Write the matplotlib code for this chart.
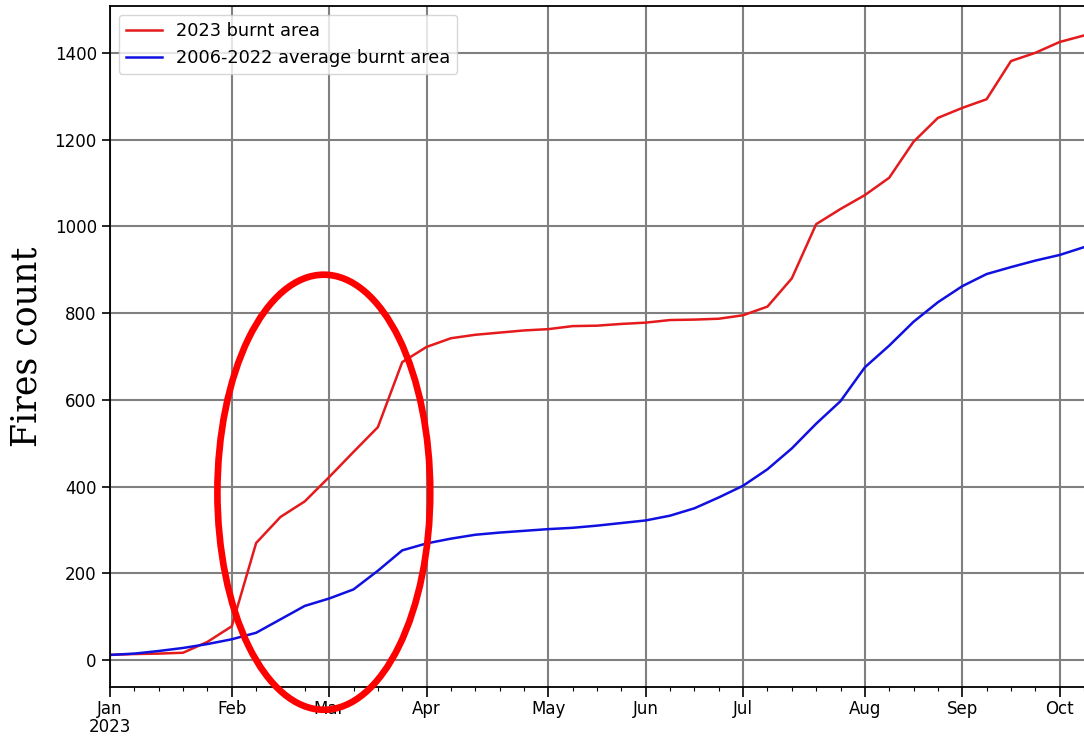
import numpy as np
import matplotlib.pyplot as plt
from matplotlib.patches import Ellipse

# weekly cumulative values (week 0 = week containing 1 Jan 2023)
weeks = np.arange(41)

burnt_2023 = [12, 14, 15, 17, 42, 78, 270, 330, 366, 422,
              480, 537, 687, 722, 742, 750, 755, 760, 763, 770,
              771, 775, 778, 784, 785, 787, 795, 815, 880, 1005,
              1040, 1072, 1112, 1195, 1250, 1273, 1293, 1381, 1400, 1425,
              1440]

burnt_avg = [12, 15, 21, 28, 37, 48, 63, 94, 125, 142,
             163, 206, 253, 269, 280, 289, 294, 298, 302, 305,
             310, 316, 322, 333, 350, 375, 402, 440, 488, 545,
             597, 675, 725, 780, 825, 862, 890, 906, 921, 934,
             952]

month_weeks = [0, 5, 9, 13, 18, 22, 26, 31, 35, 39]
month_labels = ["Jan\n2023", "Feb", "Mar", "Apr", "May", "Jun", "Jul", "Aug", "Sep", "Oct"]

fig = plt.figure(figsize=(10.84, 7.38), dpi=100)
ax = fig.add_axes([0.1015, 0.0691, 0.8985, 0.9228])

ax.plot(weeks, burnt_2023, color="#e41a1c", lw=1.8, label="2023 burnt area")
ax.plot(weeks, burnt_avg, color="#1010e0", lw=1.8, label="2006-2022 average burnt area")

ax.set_xlim(0, 39.77)
ax.set_ylim(-62, 1508)

ax.set_xticks(month_weeks)
ax.set_xticklabels(month_labels, fontsize=12, linespacing=1.05)
ax.set_xticks(weeks, minor=True)
ax.tick_params(axis="x", which="major", length=7, width=1.2, pad=2)
ax.tick_params(axis="x", which="minor", length=3, width=0.8)
ax.tick_params(axis="y", labelsize=12, length=6, width=1.2)
ax.set_yticks([0, 200, 400, 600, 800, 1000, 1200, 1400])

ax.grid(True, which="major", color="#808080", lw=1.5)
ax.spines["right"].set_visible(False)
for s in ["left", "bottom", "top"]:
    ax.spines[s].set_linewidth(1.3)

ax.set_ylabel("Fires count", family="DejaVu Serif", fontsize=25, labelpad=8)

ax.legend(loc="upper left", fontsize=12.8, framealpha=0.8, borderaxespad=0.5)

# highlight ellipse
ell = Ellipse((8.78, 387), 8.74, 1003, fill=False, edgecolor="red", lw=4.8, clip_on=False, zorder=5)
ax.add_patch(ell)

plt.savefig("out.png", dpi=100)
